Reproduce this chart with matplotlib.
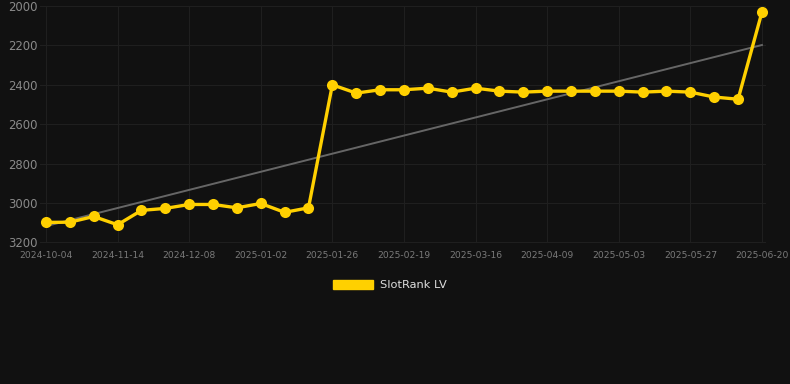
import numpy as np
import matplotlib
matplotlib.use("Agg")
import matplotlib.pyplot as plt
from matplotlib.patches import Patch

# rank values (lower is better, axis reversed)
rank = [3098, 3097, 3068, 3110, 3037, 3027, 3007, 3007, 3024, 3002,
        3047, 3024, 2400, 2442, 2425, 2425, 2417, 2437, 2417, 2432,
        2437, 2432, 2432, 2432, 2432, 2437, 2432, 2437, 2462, 2473, 2031]
tick_labels = ["2024-10-04", "2024-11-14", "2024-12-08", "2025-01-02",
               "2025-01-26", "2025-02-19", "2025-03-16", "2025-04-09",
               "2025-05-03", "2025-05-27", "2025-06-20"]
y_ticks = [2000, 2200, 2400, 2600, 2800, 3000, 3200]
series_name = "SlotRank LV"

bg = "#111111"
gold = "#FFD000"

x = np.arange(len(rank))
slope, intercept = np.polyfit(x, rank, 1)
trend = slope * x + intercept

fig = plt.figure(figsize=(7.9, 3.84), dpi=100, facecolor=bg)
ax = fig.add_axes([40 / 790, 1 - 242.5 / 384, 726 / 790, 236.5 / 384])
ax.set_facecolor(bg)

ax.plot(x, trend, color="#666666", lw=1.4, zorder=2)
ax.plot(x, rank, color=gold, lw=2.4, marker="o", ms=8,
        markeredgewidth=0, zorder=3, clip_on=False)

ax.set_xlim(-0.25, len(rank) - 1 + 0.17)
ax.set_ylim(3200, 2000)
ax.set_yticks(y_ticks)
ax.set_yticklabels([str(v) for v in y_ticks])
ax.set_xticks(x[::3])
ax.set_xticklabels(tick_labels)

ax.grid(True, color="#1f1f1f", lw=0.8)
ax.set_axisbelow(True)
for s in ax.spines.values():
    s.set_visible(False)
ax.tick_params(axis="y", length=0, pad=2, labelsize=8.4, colors="#8a8a8a")
ax.tick_params(axis="x", length=0, pad=6, labelsize=6.6, colors="#7a7a7a")

handle = Patch(facecolor=gold, edgecolor=gold)
leg = fig.legend([handle], [series_name], loc="center",
                 bbox_to_anchor=(390 / 790, 1 - 285 / 384),
                 frameon=False, fontsize=8.2, handlelength=3.5,
                 handleheight=0.95, handletextpad=0.6)
for t in leg.get_texts():
    t.set_color("#dddddd")

fig.savefig("out.png", dpi=100, facecolor=bg)
